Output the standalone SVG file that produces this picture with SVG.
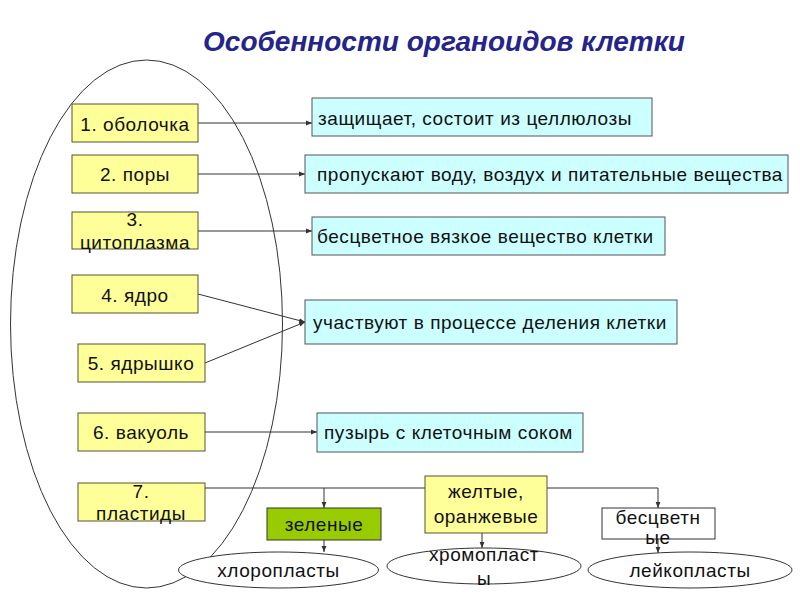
<svg xmlns="http://www.w3.org/2000/svg" width="800" height="600" viewBox="0 0 800 600">
<defs>
<style>
text{font-family:"Liberation Sans",Arial,sans-serif;font-size:19px;fill:#111;letter-spacing:0.55px}
.title{font-size:28px;font-weight:bold;font-style:italic;fill:#24248a;letter-spacing:0}
.org{fill:#ffff99;stroke:#555533;stroke-width:1}
.desc{fill:#ccffff;stroke:#555;stroke-width:1}
.c{text-anchor:middle}
.conn{stroke:#333;stroke-width:1;fill:none}
</style>
<marker id="ah" viewBox="0 0 10 10" refX="10" refY="5" markerWidth="6" markerHeight="6" orient="auto">
<path d="M0,1 L10,5 L0,9 z" fill="#333"/>
</marker>
</defs>
<rect width="800" height="600" fill="#fff"/>
<text class="title" x="444" y="51" text-anchor="middle">Особенности органоидов клетки</text>
<ellipse cx="146.5" cy="324" rx="136" ry="264" fill="none" stroke="#333" stroke-width="1"/>

<g id="connectors">
<line class="conn" x1="198" y1="123" x2="312" y2="123" marker-end="url(#ah)"/>
<line class="conn" x1="198" y1="174" x2="305" y2="174" marker-end="url(#ah)"/>
<line class="conn" x1="198" y1="231" x2="312" y2="231" marker-end="url(#ah)"/>
<line class="conn" x1="198" y1="294" x2="305" y2="322" marker-end="url(#ah)"/>
<line class="conn" x1="205" y1="363" x2="305" y2="322" marker-end="url(#ah)"/>
<line class="conn" x1="205" y1="432" x2="317" y2="432" marker-end="url(#ah)"/>
<polyline class="conn" points="205,488 658,488"/>
<line class="conn" x1="658" y1="488" x2="658" y2="508" marker-end="url(#ah)"/>
<line class="conn" x1="324" y1="488" x2="324" y2="508" marker-end="url(#ah)"/>
<line class="conn" x1="324" y1="540" x2="324" y2="552" marker-end="url(#ah)"/>
<line class="conn" x1="482" y1="533" x2="482" y2="548" marker-end="url(#ah)"/>
<line class="conn" x1="658" y1="539" x2="658" y2="553" marker-end="url(#ah)"/>
</g>

<g id="n1"><rect class="org" x="72" y="104" width="126" height="38"/><text class="c" x="135" y="131">1. оболочка</text></g>
<g id="n2"><rect class="org" x="72" y="155" width="126" height="38"/><text class="c" x="135" y="181">2. поры</text></g>
<g id="n3"><rect class="org" x="72" y="212" width="126" height="37"/><text class="c" x="135" y="226">3.</text><text class="c" x="135" y="249">цитоплазма</text></g>
<g id="n4"><rect class="org" x="72" y="275" width="126" height="38"/><text class="c" x="135" y="302">4. ядро</text></g>
<g id="n5"><rect class="org" x="78" y="344" width="127" height="38"/><text class="c" x="141" y="370">5. ядрышко</text></g>
<g id="n6"><rect class="org" x="78" y="413" width="127" height="38"/><text class="c" x="141" y="439">6. вакуоль</text></g>
<g id="n7"><rect class="org" x="78" y="483" width="127" height="38"/><text class="c" x="141" y="498">7.</text><text class="c" x="141" y="520">пластиды</text></g>

<g id="d1"><rect class="desc" x="312" y="98" width="340" height="38"/><text x="318" y="125">защищает, состоит из целлюлозы</text></g>
<g id="d2"><rect class="desc" x="305" y="155" width="483" height="38"/><text x="317" y="181">пропускают воду, воздух и питательные вещества</text></g>
<g id="d3"><rect class="desc" x="312" y="217" width="353" height="38"/><text x="317" y="243">бесцветное вязкое вещество клетки</text></g>
<g id="d4"><rect class="desc" x="305" y="300" width="372" height="44"/><text x="313" y="329">участвуют в процессе деления клетки</text></g>
<g id="d5"><rect class="desc" x="317" y="413" width="266" height="39"/><text x="324" y="439">пузырь с клеточным соком</text></g>

<g id="green"><rect x="267" y="508" width="114" height="32" fill="#99cc00" stroke="#333" stroke-width="1"/><text class="c" x="324" y="531">зеленые</text></g>
<g id="yellow"><rect class="org" x="425" y="476" width="122" height="57"/><text class="c" x="486" y="498">желтые,</text><text class="c" x="486" y="523">оранжевые</text></g>
<g id="colorless"><rect x="602" y="508" width="113" height="31" fill="#fff" stroke="#333" stroke-width="1"/><text class="c" x="658" y="524">бесцветн</text><text class="c" x="658" y="544">ые</text></g>

<g id="chloro"><ellipse cx="278.5" cy="570" rx="100" ry="18" fill="#fff" stroke="#333"/><text class="c" x="278.5" y="577">хлоропласты</text></g>
<g id="chromo"><ellipse cx="484" cy="566" rx="97" ry="18" fill="#fff" stroke="#333"/><text class="c" x="484" y="561">хромопласт</text><text class="c" x="484" y="585">ы</text></g>
<g id="leuco"><ellipse cx="690" cy="570" rx="102" ry="18" fill="#fff" stroke="#333"/><text class="c" x="690" y="577">лейкопласты</text></g>
</svg>
